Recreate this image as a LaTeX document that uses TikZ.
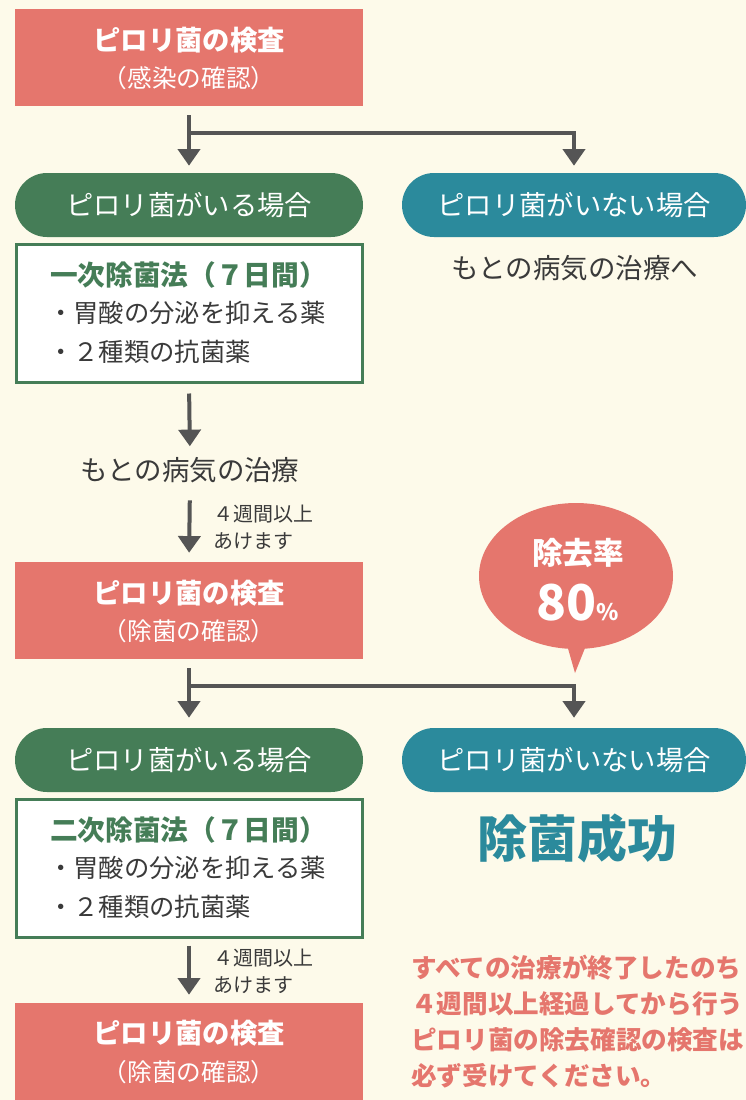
\documentclass[tikz,border=0pt]{standalone}
\usepackage{fontspec}
\setmainfont{Noto Sans CJK JP}
\usetikzlibrary{arrows.meta,shapes.geometric}
\definecolor{bg}{HTML}{FDFAEA}
\definecolor{pred}{HTML}{E5766D}
\definecolor{pgreen}{HTML}{457D57}
\definecolor{pteal}{HTML}{2B8A9C}
\definecolor{pgray}{HTML}{555555}
\definecolor{ptext}{HTML}{3A3A3A}
\begin{document}
\begin{tikzpicture}[x=0.75pt,y=-0.75pt,
  redbox/.style={fill=pred, minimum width=261pt, minimum height=72.75pt, inner sep=0},
  rtitle/.style={text=white, inner sep=0, font=\bfseries\fontsize{20.5}{24}\selectfont},
  rsub/.style={text=white, inner sep=0, font=\fontsize{18.5}{22}\selectfont},
  yespill/.style={fill=pgreen, rounded corners=24pt, minimum width=261pt, minimum height=48pt, inner sep=0, text=white, font=\fontsize{20.5}{24}\selectfont},
  nopill/.style={yespill, fill=pteal, minimum width=258pt},
  whitebox/.style={draw=pgreen, line width=2.25pt, fill=white, minimum width=259.5pt, minimum height=103.5pt, inner sep=0},
  wtitle/.style={anchor=west, inner sep=0, text=pgreen, font=\bfseries\fontsize{20.75}{24}\selectfont},
  wbullet/.style={anchor=west, inner sep=0, text=ptext, font=\fontsize{19}{22}\selectfont},
  plain/.style={inner sep=0, text=ptext, font=\fontsize{20.6}{24}\selectfont},
  small/.style={anchor=west, inner sep=0, align=left, text=ptext, font=\fontsize{15}{20.25}\selectfont},
  arr/.style={draw=pgray, line width=3pt, -{Triangle[width=16.5pt,length=12.5pt]}},
]
\useasboundingbox (0,0) rectangle (746,1100);
\fill[bg] (0,0) rectangle (746,1100);

% ---- first test
\node[redbox] (test1) at (189,57.5) {};
\node[rtitle] (test1t) at (189,40) {ピロリ菌の検査};
\node[rsub] (test1s) at (189,78) {（感染の確認）};

\node[yespill] (yes1) at (189,205) {ピロリ菌がいる場合};
\node[nopill] (no1) at (574,205) {ピロリ菌がいない場合};
\node[plain] (no1t) at (575,268) {もとの病気の治療へ};

\coordinate (br1) at (189,133);
\draw[arr, shorten <=6.75pt, shorten >=5.25pt] (test1.south) -- (yes1.north);
\draw[arr, shorten >=5.25pt] (br1) -| (no1.north);

% ---- first eradication box
\node[whitebox] (box1) at (189,313) {};
\node[wtitle] (box1t) at (50,275) {一次除菌法（７日間）};
\node[wbullet] (box1a) at (48,313) {・胃酸の分泌を抑える薬};
\node[wbullet] (box1b) at (48,352) {・２種類の抗菌薬};

\node[plain] (cure) at (190,470) {もとの病気の治療};
\draw[arr, shorten <=7.5pt, shorten >=8pt] (box1.south) -- (cure.north);

% ---- second test
\node[redbox] (test2) at (189,610.5) {};
\node[rtitle] (test2t) at (189,593) {ピロリ菌の検査};
\node[rsub] (test2s) at (189,631) {（除菌の確認）};
\draw[arr, shorten <=13pt, shorten >=6.75pt] (cure.south) -- (test2.north);
\node[small] (wait1) at (213,527) {４週間以上\\あけます};

% ---- bubble
\node[ellipse, fill=pred, minimum width=145.5pt, minimum height=109.5pt, inner sep=0] (bubble) at (576,576) {};
\fill[pred] (565,638) -- (575,673) -- (589,638) -- cycle;
\node[text=white, inner sep=0, font=\bfseries\fontsize{23}{26}\selectfont] (rate) at (578,553) {除去率};
\node[text=white, inner sep=0, font=\bfseries\fontsize{37}{40}\selectfont] (pct) at (578,603) {80{\fontsize{17}{18}\selectfont\%}};

% ---- second branch
\node[yespill] (yes2) at (189,760) {ピロリ菌がいる場合};
\node[nopill] (no2) at (574,760) {ピロリ菌がいない場合};
\coordinate (br2) at (189,686);
\draw[arr, shorten <=6.75pt, shorten >=7.5pt] (test2.south) -- (yes2.north);
\draw[arr, shorten >=7.5pt] (br2) -| (no2.north);

\node[text=pteal, inner sep=0, font=\bfseries\fontsize{37.5}{40}\selectfont] (succ) at (577,838) {除菌成功};

% ---- second eradication box
\node[whitebox] (box2) at (189,868) {};
\node[wtitle] (box2t) at (50,830) {二次除菌法（７日間）};
\node[wbullet] (box2a) at (48,868) {・胃酸の分泌を抑える薬};
\node[wbullet] (box2b) at (48,907) {・２種類の抗菌薬};

% ---- third test
\node[redbox] (test3) at (189,1051.5) {};
\node[rtitle] (test3t) at (189,1033) {ピロリ菌の検査};
\node[rsub] (test3s) at (189,1072) {（除菌の確認）};
\draw[arr, shorten <=5.25pt, shorten >=6pt] (box2.south) -- (test3.north);
\node[small] (wait2) at (213,971) {４週間以上\\あけます};

% ---- note
\node[anchor=west, align=left, inner sep=0, text=pred, font=\bfseries\fontsize{19.2}{27}\selectfont] (note) at (411,1022) {すべての治療が終了したのち\\４週間以上経過してから行う\\ピロリ菌の除去確認の検査は\\必ず受けてください。};
\end{tikzpicture}
\end{document}
